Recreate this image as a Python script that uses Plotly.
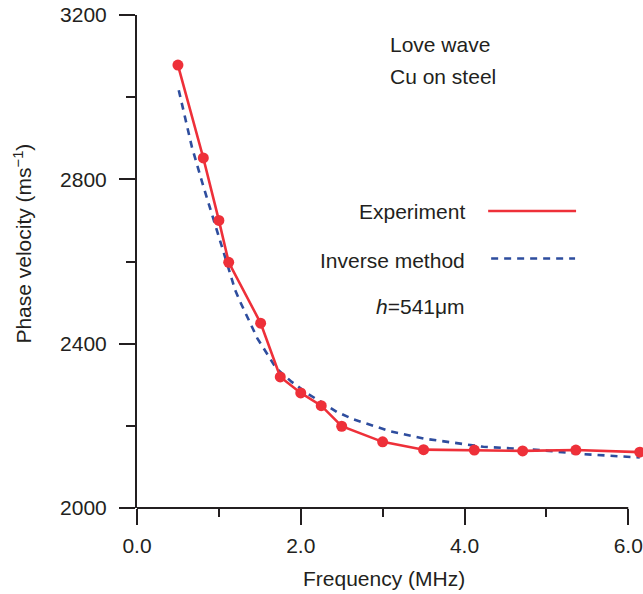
import plotly.graph_objects as go

# Experimental data (Love wave, Cu on steel)
exp_freq = [0.5, 0.81, 1.0, 1.12, 1.51, 1.75, 2.0, 2.25, 2.5, 3.0, 3.5, 4.12, 4.71, 5.36, 6.14]
exp_vel = [3078, 2852, 2700, 2598, 2450, 2319, 2280, 2249, 2199, 2161, 2142, 2141, 2139, 2141, 2136]

# Inverse method curve
inv_freq = [0.51, 0.57, 0.67, 0.80, 0.92, 1.12, 1.20, 1.26, 1.47, 1.70, 1.89, 2.08, 2.44, 2.64,
            3.09, 3.50, 4.23, 4.92, 5.45, 6.14]
inv_vel = [3017, 2968, 2879, 2790, 2713, 2579, 2530, 2502, 2413, 2340, 2307, 2279, 2234, 2216,
           2187, 2169, 2149, 2141, 2131, 2123]

x_ticks = [0, 2, 4, 6]
x_ticktext = ["0.0", "2.0", "4.0", "6.0"]
y_ticks = [2000, 2400, 2800, 3200]

RED = "#EE3039"
BLUE = "#2E4D9E"
INK = "#231F20"
FONT = "Liberation Sans, Arial, Helvetica, sans-serif"
FS = 21

fig = go.Figure()
fig.add_trace(go.Scatter(x=inv_freq, y=inv_vel, mode="lines",
                         line=dict(color=BLUE, width=2.6, dash="7px,6px"),
                         showlegend=False, hoverinfo="skip"))
fig.add_trace(go.Scatter(x=exp_freq, y=exp_vel, mode="lines+markers",
                         line=dict(color=RED, width=2.6),
                         marker=dict(color=RED, size=11),
                         cliponaxis=False, showlegend=False, hoverinfo="skip"))

W, H = 643, 594
L, R, T, B = 136.5, 0, 15, 86
pw = W - L - R
ph = H - T - B


def px(xp):
    return (xp - L) / pw


def py(yp):
    return (H - B - yp) / ph


fig.update_layout(
    width=W, height=H,
    margin=dict(l=L, r=R, t=T, b=B),
    paper_bgcolor="white", plot_bgcolor="white",
    font=dict(family=FONT, size=FS, color=INK),
    xaxis=dict(range=[0, 6.18], showgrid=False, zeroline=False, showline=False,
               tickvals=x_ticks, ticktext=x_ticktext, ticks="outside", ticklen=16,
               tickwidth=2, tickcolor=INK, ticklabelstandoff=3,
               minor=dict(tickvals=[1, 3, 5], ticks="outside", ticklen=8, tickwidth=2,
                          tickcolor=INK, showgrid=False),
               tickfont=dict(size=FS)),
    yaxis=dict(range=[2000, 3200], showgrid=False, zeroline=False, showline=True,
               linewidth=2, linecolor=INK,
               tickvals=y_ticks, ticks="outside", ticklen=16, tickwidth=2,
               tickcolor=INK, ticklabelstandoff=8,
               minor=dict(tickvals=[2200, 2600, 3000], ticks="outside", ticklen=9,
                          tickwidth=2, tickcolor=INK, showgrid=False),
               tickfont=dict(size=FS)),
)

# bottom axis line ending at 6.0
fig.add_shape(type="line", xref="x", yref="paper", x0=0, x1=6, y0=0, y1=0,
              line=dict(color=INK, width=2), layer="above")

# legend sample lines
fig.add_shape(type="line", xref="paper", yref="paper", x0=px(488), x1=px(576),
              y0=py(211), y1=py(211), line=dict(color=RED, width=2.6))
fig.add_shape(type="line", xref="paper", yref="paper", x0=px(491), x1=px(575),
              y0=py(258.5), y1=py(258.5), line=dict(color=BLUE, width=2.6, dash="7px,6px"))

ann = [
    dict(text="Love wave", x=px(388), y=py(44), xanchor="left"),
    dict(text="Cu on steel", x=px(388), y=py(76), xanchor="left"),
    dict(text="Experiment", x=px(467), y=py(211), xanchor="right"),
    dict(text="Inverse method", x=px(467), y=py(260), xanchor="right"),
    dict(text="<i>h</i>=541μm", x=px(467), y=py(306), xanchor="right"),
    dict(text="Frequency (MHz)", x=px(384), y=py(578), xanchor="center"),
    dict(text="Phase velocity (ms<sup>−1</sup>)", x=px(22), y=py(244), xanchor="center",
         textangle=-90),
]
for a in ann:
    fig.add_annotation(xref="paper", yref="paper", yanchor="middle", showarrow=False,
                       font=dict(family=FONT, size=FS, color=INK), **a)

fig.write_html("out.html", config={"displayModeBar": False},
               post_script="document.body.style.margin='0';")
